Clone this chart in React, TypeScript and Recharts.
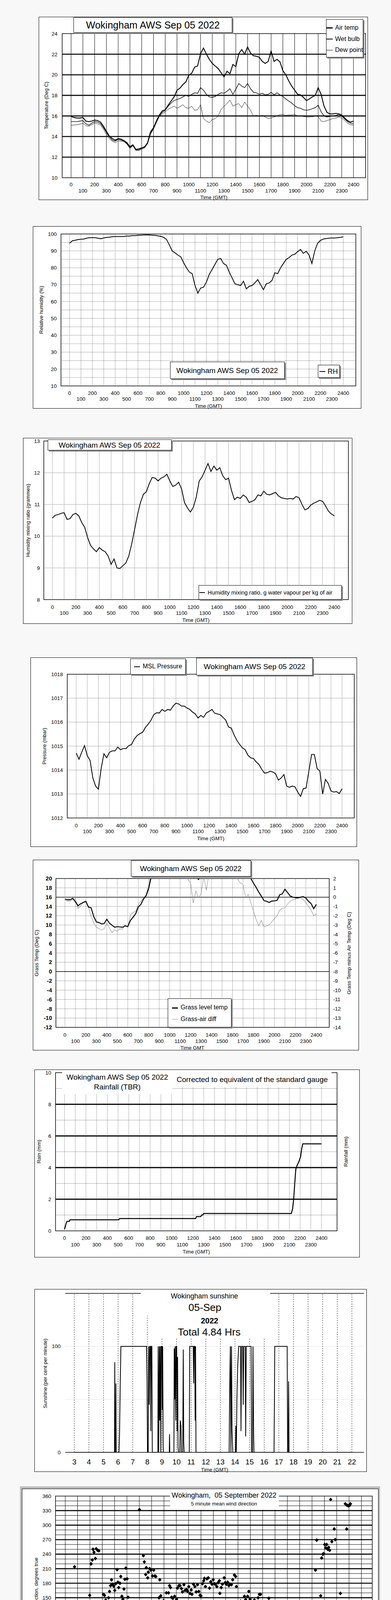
import React from 'react'
import {
  LineChart, Line, XAxis, YAxis, ReferenceLine, ReferenceArea,
  ScatterChart, Scatter, ComposedChart
} from 'recharts'

const FONT = '"Liberation Sans", Arial, Helvetica, sans-serif'

// time axis of the AWS plots is HHMM-like (0 .. 2400); traces read every 15 minutes
const STEP_TIMES = Array.from({ length: 97 }, (_, i) => i * 25)
const HUNDREDS = Array.from({ length: 25 }, (_, i) => i * 100)
// wind speed traces read every 6 minutes (tenths of an hour)
const SPEED_HOURS = Array.from({ length: 240 }, (_, i) => i / 10)

// one row per hour: :00 :15 :30 :45
const AIR_TEMP = [
  15.95, 15.85, 15.8, 15.8,
  15.85, 15.5, 15.45, 15.5,
  15.6, 15.55, 15.4, 15.0,
  14.5, 14.05, 13.8, 13.65,
  13.8, 13.75, 13.6, 13.4,
  13.0, 13.2, 12.75, 12.8,
  12.9, 13.0, 13.4, 14.45,
  14.85, 15.5, 16.1, 16.5,
  16.6, 17.05, 17.45, 17.85,
  18.5, 18.7, 19.05, 19.3,
  19.95, 20.15, 20.75, 20.85,
  22.05, 22.6, 22.0, 21.5,
  21.1, 20.85, 20.6, 20.2,
  19.8, 20.35, 20.1, 21.0,
  20.8, 22.05, 22.45, 22.0,
  22.7, 22.1, 21.85, 21.8,
  21.7, 21.3, 21.1, 21.3,
  22.3, 21.3, 21.5, 21.25,
  20.4, 20.0, 19.4, 18.9,
  18.5, 18.1, 18.05, 17.8,
  17.5, 17.65, 17.85, 18.0,
  18.75, 18.1, 16.95, 16.35,
  16.2, 16.2, 16.25, 16.2,
  16.1, 15.8, 15.55, 15.4,
  15.5,
]

const WET_BULB = [
  15.45, 15.45, 15.45, 15.5,
  15.55, 15.25, 15.1, 15.3,
  15.45, 15.4, 15.25, 14.85,
  14.4, 13.95, 13.65, 13.55,
  13.75, 13.65, 13.55, 13.3,
  12.9, 13.15, 12.7, 12.7,
  12.85, 12.95, 13.35, 14.3,
  14.8, 15.45, 16.0, 16.35,
  16.55, 16.95, 17.25, 17.5,
  17.6, 17.7, 17.85, 18.0,
  17.9, 18.1, 18.25, 18.2,
  18.75, 18.5, 18.1, 17.85,
  17.8, 17.9, 18.1, 18.25,
  18.2, 18.4, 18.65, 18.1,
  18.6, 19.15, 18.9, 18.75,
  19.15, 18.65, 18.3, 18.25,
  18.1, 18.2, 18.05, 18.1,
  18.3, 18.05, 18.25, 18.05,
  17.9, 17.65, 17.45, 17.25,
  17.0, 16.8, 16.75, 16.6,
  16.55, 16.6, 16.7, 16.8,
  17.05, 16.4, 16.0, 15.9,
  15.95, 16.0, 16.05, 16.15,
  16.0, 15.7, 15.45, 15.3,
  15.25,
]

const DEW_POINT = [
  15.1, 15.12, 15.15, 15.2,
  15.3, 15.05, 15.0, 15.15,
  15.3, 15.25, 15.1, 14.7,
  14.2, 13.8, 13.55, 13.4,
  13.6, 13.55, 13.5, 13.25,
  12.85, 13.1, 12.65, 12.65,
  12.75, 12.9, 13.3, 14.25,
  14.7, 15.35, 15.95, 16.2,
  16.4, 16.65, 16.8, 16.95,
  16.75, 16.9, 17.1, 16.8,
  16.75, 16.95, 16.55, 16.6,
  17.1, 15.75, 15.5, 15.35,
  15.65, 15.75, 16.0, 16.65,
  16.95, 17.2, 17.55, 16.95,
  17.1, 17.2, 16.8, 17.35,
  16.95, 16.55, 16.0, 16.05,
  15.95, 16.05, 15.9, 15.75,
  15.8, 15.9, 16.0, 16.15,
  16.15, 16.05, 16.1, 16.1,
  16.15, 16.0, 16.0, 15.95,
  15.9, 15.9, 15.92, 16.0,
  15.95, 15.5, 15.45, 15.55,
  15.65, 15.75, 15.8, 15.9,
  15.8, 15.55, 15.3, 15.15,
  15.1,
]

const REL_HUMIDITY = [
  94.5, 96.0, 96.3, 96.7,
  96.9, 97.0, 97.5, 97.8,
  97.8, 97.8, 97.5, 97.2,
  97.7, 98.0, 98.1, 98.4,
  98.5, 98.5, 98.5, 98.5,
  98.8, 98.8, 99.0, 99.0,
  99.2, 99.3, 99.4, 99.5,
  99.4, 99.3, 99.2, 98.9,
  98.6, 98.0, 96.8, 93.5,
  90.0, 88.8, 87.5, 86.5,
  83.0, 80.0, 77.5, 76.5,
  69.5, 65.0, 68.0, 68.5,
  71.5, 76.0, 79.0, 82.0,
  85.0, 85.5, 82.5, 81.5,
  77.5, 74.0, 70.5, 70.0,
  69.5, 72.0, 67.5, 69.0,
  69.5, 71.0, 73.0, 70.0,
  67.0, 70.5, 71.0, 72.5,
  77.0, 76.5, 80.0, 82.5,
  85.0, 86.0, 87.5, 88.0,
  89.5, 90.8, 88.5, 89.8,
  87.5, 82.5, 90.0, 94.5,
  96.2, 97.0, 97.3, 97.5,
  97.6, 97.6, 97.8, 98.0,
  98.3,
]

const MIXING_RATIO = [
  10.57, 10.66, 10.68, 10.72,
  10.74, 10.53, 10.55, 10.68,
  10.72, 10.64, 10.43, 10.28,
  9.96, 9.71, 9.6, 9.51,
  9.64, 9.56, 9.51, 9.37,
  9.11, 9.28, 9.0, 8.98,
  9.07, 9.15, 9.37, 9.75,
  10.21, 10.68, 11.06, 11.32,
  11.4, 11.66, 11.85, 11.83,
  11.74, 11.83, 11.87, 11.95,
  11.74, 11.57, 11.61, 11.7,
  11.49, 11.06, 10.89, 10.76,
  10.91, 11.23, 11.74, 11.87,
  12.08, 12.29, 12.04, 12.21,
  12.08, 12.16, 11.91, 11.78,
  11.83, 11.44, 11.15, 11.23,
  11.19, 11.3, 11.23, 11.06,
  11.1, 11.15, 11.3, 11.27,
  11.42, 11.32, 11.3, 11.34,
  11.38, 11.27, 11.21, 11.19,
  11.17, 11.19, 11.17, 11.25,
  11.21, 11.0, 10.83, 10.87,
  10.98, 11.04, 11.08, 11.13,
  11.1, 10.96, 10.79, 10.7,
  10.64,
]

const MSL_PRESSURE = [
  1014.71, 1014.45, 1014.75, 1015.02,
  1014.6, 1014.4, 1013.67, 1013.33,
  1013.2, 1014.06, 1014.68, 1014.51,
  1014.74, 1014.8, 1014.8, 1014.96,
  1014.85, 1014.9, 1014.9, 1015.02,
  1015.07, 1015.3, 1015.44, 1015.52,
  1015.58, 1015.78, 1015.92, 1016.08,
  1016.31, 1016.39, 1016.38, 1016.53,
  1016.45, 1016.53, 1016.5, 1016.67,
  1016.79, 1016.76, 1016.67, 1016.67,
  1016.59, 1016.53, 1016.42, 1016.34,
  1016.17, 1016.28, 1016.2, 1016.39,
  1016.45, 1016.53, 1016.37, 1016.34,
  1016.31, 1016.2, 1016.08, 1015.8,
  1015.75, 1015.47, 1015.24, 1015.07,
  1014.93, 1014.85, 1014.62, 1014.51,
  1014.48, 1014.34, 1014.23, 1014.03,
  1013.87, 1013.89, 1013.95, 1013.92,
  1013.84, 1013.58, 1013.67, 1013.81,
  1013.33, 1013.28, 1013.33, 1013.3,
  1013.08, 1012.9, 1013.22, 1013.25,
  1013.95, 1014.65, 1014.65, 1014.06,
  1013.95, 1013.0, 1013.61, 1013.44,
  1013.13, 1013.08, 1013.1, 1013.02,
  1013.22,
]

// grass temp runs off the top of its axis (20) through the middle of the day
const GRASS_TEMP = [
  15.58, 15.44, 15.44, 15.73,
  15.0, 14.14, 14.57, 14.86,
  15.06, 13.85, 13.7, 11.83,
  10.67, 10.53, 10.24, 10.33,
  11.25, 10.38, 9.95, 9.52,
  9.66, 9.6, 9.52, 9.8,
  9.66, 10.96, 11.68, 12.4,
  13.85, 14.43, 15.58, 16.3,
  17.89, 20.5, 22.0, 23.0,
  24.0, 24.5, 25.0, 25.5,
  26.0, 26.0, 26.5, 26.0,
  26.5, 25.5, 24.0, 23.0,
  21.5, 20.4, 20.5, 19.8,
  20.6, 21.0, 21.5, 23.0,
  24.0, 25.0, 25.5, 25.0,
  26.0, 25.0, 24.0, 23.5,
  23.0, 22.5, 22.0, 22.5,
  22.0, 21.5, 20.8, 20.0,
  19.0, 18.1, 17.1, 16.2,
  15.25, 15.1, 14.85, 15.15,
  15.2, 15.3, 16.5, 16.7,
  17.7, 17.0, 16.25, 16.0,
  15.9, 15.85, 16.0, 16.1,
  15.8, 15.1, 14.6, 13.5,
  14.43,
]

const GRASS_AIR_DIFF = [
  -0.35, -0.4, -0.43, -0.3,
  -0.14, -1.22, -0.93, -0.6,
  -0.35, -1.08, -2.09, -2.81,
  -3.24, -3.4, -3.53, -3.4,
  -2.81, -3.31, -3.82, -3.53,
  -3.68, -3.39, -3.45, -2.95,
  -3.24, -1.94, -1.65, -1.51,
  -0.79, -0.43, -0.07, 0.22,
  1.38, 2.5, 3.5, 4.0,
  4.5, 5.0, 5.0, 5.5,
  5.5, 5.5, 5.5, 5.0,
  4.5, 3.5, 2.5, 1.9,
  1.52, -0.64, 0.66, -0.07,
  0.37, 2.2, 0.73, 2.5,
  3.0, 3.5, 3.5, 3.5,
  3.5, 3.0, 2.5, 1.96,
  2.3, 2.3, 1.9, 1.5,
  1.38, -0.07, 0.3, -0.6,
  -1.5, -2.4, -3.1, -2.5,
  -3.2, -3.1, -3.0, -2.66,
  -2.3, -2.0, -1.4, -1.2,
  -1.15, -0.75, -0.45, -0.28,
  -0.21, -0.1, -0.07, -0.28,
  -0.55, -1.0, -1.4, -2.0,
  -1.8,
]

// [time HHMM, accumulated rain mm]
const RAIN_TOTAL: [number, number][] = [
  [0, 0.1], [10, 0.35], [22, 0.6], [45, 0.6], [50, 0.7], [505, 0.7], [515, 0.78],
  [1225, 0.78], [1232, 0.9], [1272, 0.9], [1280, 1.0], [1290, 1.0], [1300, 1.1],
  [2118, 1.1], [2130, 1.4], [2140, 2.0], [2150, 3.0], [2160, 3.9], [2170, 4.1],
  [2190, 4.4], [2205, 4.7], [2215, 5.2], [2225, 5.5], [2400, 5.5],
]

// [hour, per cent sunshine]
const SUNSHINE: [number, number][] = [
  [3, 0], [5.75, 0], [5.77, 85], [5.79, 0], [5.83, 0], [5.85, 65], [5.87, 0], [6.06, 0],
  [6.1, 20], [6.14, 60], [6.19, 100], [7.95, 100], [7.98, 70], [8.01, 0], [8.06, 0],
  [8.09, 100], [8.13, 45], [8.16, 100], [8.21, 100], [8.24, 20], [8.27, 100], [8.31, 100],
  [8.34, 0], [8.72, 0], [8.74, 100], [8.78, 0], [8.82, 100], [8.85, 30], [8.88, 100],
  [8.92, 0], [8.95, 100], [9.0, 100], [9.02, 40], [9.05, 100], [9.08, 10], [9.1, 0],
  [9.5, 0], [9.52, 17], [9.54, 0], [9.82, 0], [9.84, 98], [9.87, 50], [9.9, 100],
  [9.94, 30], [9.97, 100], [10.01, 100], [10.04, 20], [10.07, 90], [10.1, 5], [10.13, 0],
  [10.22, 0], [10.25, 30], [10.3, 25], [10.33, 0], [10.42, 0], [10.46, 97], [10.49, 10],
  [10.52, 0], [10.87, 0], [10.9, 100], [11.14, 100], [11.17, 65], [11.2, 100], [11.25, 100],
  [11.27, 30], [11.3, 100], [11.33, 0], [13.6, 0], [13.63, 55], [13.68, 100], [13.72, 0],
  [13.76, 100], [13.8, 20], [13.85, 0], [14.03, 0], [14.06, 25], [14.09, 0], [14.13, 50],
  [14.18, 80], [14.25, 100], [14.38, 100], [14.41, 20], [14.45, 100], [14.53, 100],
  [14.56, 45], [14.6, 100], [14.7, 100], [14.73, 15], [14.77, 100], [15.1, 100], [15.13, 0],
  [15.2, 0], [15.23, 100], [15.27, 20], [15.3, 0], [16.67, 0], [16.7, 50], [16.72, 100],
  [17.57, 100], [17.6, 0], [17.64, 0], [17.67, 67], [17.7, 0], [22, 0],
]

// [hour, degrees true] 5 minute mean wind direction
const WIND_DIR: [number, number][] = [
  [0, 73], [0.08, 85], [0.19, 78], [0.24, 96], [0.35, 111], [0.45, 95], [0.49, 82], [0.6, 80], [0.66, 136], [0.75, 214], [0.85, 29], [0.93, 76],
  [1.01, 67], [1.07, 99], [1.17, 85], [1.28, 73], [1.37, 62], [1.48, 62], [1.6, 82], [1.67, 84], [1.77, 72], [1.82, 82], [1.93, 103], [1.98, 155],
  [2.09, 220], [2.19, 228], [2.25, 250], [2.33, 244], [2.44, 231], [2.51, 251], [2.62, 248], [2.72, 247], [2.75, 92], [2.85, 76], [2.93, 121],
  [3.02, 142], [3.09, 157], [3.18, 155], [3.28, 145], [3.35, 137], [3.41, 141], [3.51, 150], [3.59, 163], [3.67, 175], [3.75, 187], [3.83, 178], [3.93, 174],
  [4.01, 165], [4.09, 179], [4.2, 208], [4.27, 182], [4.33, 171], [4.43, 180], [4.5, 194], [4.59, 153], [4.67, 147], [4.76, 168], [4.83, 188], [4.91, 211],
  [5.01, 189], [5.09, 151], [5.2, 135], [5.25, 50], [5.36, 21], [5.44, 63], [5.51, 71], [5.57, 75], [5.62, 95], [5.73, 90], [5.81, 110], [5.89, 131],
  [6.01, 332], [6.07, 14], [6.15, 21], [6.22, 27], [6.33, 237], [6.41, 224], [6.52, 198], [6.57, 212], [6.68, 191], [6.73, 203], [6.84, 210], [6.94, 207],
  [7.07, 195], [7.17, 207], [7.26, 195], [7.34, 194], [7.44, 128], [7.6, 150], [7.66, 187], [7.74, 154], [7.88, 132], [7.97, 144],
  [8.05, 134], [8.13, 142], [8.19, 160], [8.27, 136], [8.37, 160], [8.45, 175], [8.53, 171], [8.61, 151], [8.71, 149], [8.79, 142], [8.86, 153], [8.96, 139],
  [9.02, 147], [9.1, 170], [9.2, 175], [9.3, 175], [9.42, 169], [9.5, 162], [9.62, 177], [9.7, 165], [9.83, 167], [9.91, 163],
  [10.01, 173], [10.11, 159], [10.21, 166], [10.27, 157], [10.39, 178], [10.51, 173], [10.61, 162], [10.72, 177], [10.82, 163], [10.92, 155],
  [11.0, 154], [11.12, 179], [11.22, 185], [11.28, 190], [11.36, 173], [11.48, 189], [11.59, 191], [11.69, 170], [11.79, 183], [11.89, 178], [11.99, 187],
  [12.09, 179], [12.17, 178], [12.29, 173], [12.39, 181], [12.49, 185], [12.53, 159], [12.64, 171], [12.74, 178], [12.88, 191], [12.96, 181],
  [13.06, 178], [13.16, 182], [13.26, 175], [13.34, 178], [13.47, 177], [13.57, 187], [13.71, 197], [13.81, 194], [13.87, 173],
  [14.01, 142], [14.11, 130], [14.21, 143], [14.31, 126], [14.42, 124], [14.52, 153], [14.62, 146], [14.72, 139], [14.78, 153], [14.88, 163], [14.98, 147],
  [15.08, 90], [15.16, 106], [15.22, 139], [15.33, 145], [15.39, 126], [15.53, 137], [15.63, 150], [15.73, 157], [15.83, 157], [15.87, 124], [15.93, 141],
  [16.03, 123], [16.13, 116], [16.24, 92], [16.34, 114], [16.44, 120], [16.5, 149], [16.6, 123], [16.7, 124], [16.78, 131], [16.88, 103], [16.94, 108],
  [17.04, 119], [17.14, 90], [17.2, 86], [17.31, 107], [17.39, 92], [17.45, 86], [17.51, 127], [17.61, 134], [17.69, 141], [17.79, 126], [17.87, 96], [17.95, 124],
  [18.05, 111], [18.12, 116], [18.2, 102], [18.28, 118], [18.36, 123], [18.46, 108], [18.56, 102], [18.62, 111], [18.7, 95], [18.76, 83], [18.86, 74], [18.96, 76],
  [19.05, 92], [19.13, 84], [19.21, 75], [19.29, 66], [19.37, 67], [19.47, 75], [19.53, 83], [19.61, 68], [19.69, 19], [19.77, 27], [19.85, 35], [19.94, 41],
  [20.02, 46], [20.1, 51], [20.18, 111], [20.28, 207], [20.38, 269], [20.44, 21], [20.54, 74], [20.62, 126], [20.7, 154], [20.78, 232], [20.87, 240], [20.95, 241],
  [21.03, 260], [21.11, 253], [21.19, 260], [21.27, 250], [21.35, 254], [21.43, 248], [21.51, 353], [21.61, 266], [21.72, 59], [21.8, 292], [21.88, 270], [21.94, 76],
  [22.04, 94], [22.12, 59], [22.2, 116], [22.3, 159], [22.4, 106], [22.46, 111], [22.55, 87], [22.62, 75], [22.7, 344], [22.81, 292], [22.84, 341], [22.95, 340],
  [23.05, 341], [23.11, 344], [23.21, 27], [23.29, 41], [23.35, 11], [23.45, 31], [23.53, 56], [23.61, 66], [23.72, 79], [23.78, 106], [23.86, 119], [23.96, 98],
]

// 10 min mean speed (kt), ten values per hour
const MEAN_SPEED = [
  2.8, 3.5, 3.85, 3.7, 4.0, 3.3, 2.5, 2.0, 0.7, 0.2,
  0.7, 1.3, 1.55, 2.0, 2.4, 2.9, 3.3, 3.5, 3.75, 4.4,
  3.1, 3.2, 3.5, 3.7, 3.75, 3.5, 2.9, 1.55, 0.7, 0.3,
  0.9, 0.7, 1.1, 1.2, 2.0, 2.9, 3.1, 2.65, 2.4, 2.9,
  3.1, 2.65, 1.75, 1.3, 2.4, 2.65, 2.2, 2.4, 3.1, 2.65,
  2.0, 2.1, 2.65, 1.55, 1.1, 1.75, 2.0, 1.55, 2.0, 1.75,
  1.1, 0.7, 1.55, 1.3, 0.2, 0.9, 1.55, 1.75, 1.75, 1.9,
  2.0, 1.95, 1.9, 2.0, 2.1, 2.15, 2.2, 2.3, 2.4, 2.3,
  2.2, 2.3, 2.4, 1.6, 1.55, 2.5, 3.1, 3.4, 3.75, 4.0,
  4.2, 4.4, 4.6, 4.9, 5.1, 4.8, 4.7, 5.0, 5.3, 4.9,
  4.4, 4.9, 5.3, 5.8, 6.4, 5.6, 5.1, 5.8, 6.4, 7.2,
  8.0, 8.2, 8.4, 8.6, 8.8, 8.5, 8.2, 8.3, 8.4, 8.0,
  6.4, 6.0, 5.75, 5.5, 5.3, 5.1, 4.9, 4.6, 4.4, 4.6,
  4.9, 4.4, 4.0, 3.9, 3.75, 3.9, 4.0, 3.7, 3.5, 3.9,
  4.2, 4.3, 4.4, 4.3, 4.2, 4.4, 4.55, 4.8, 5.1, 5.3,
  5.5, 5.2, 4.9, 4.6, 4.4, 4.7, 5.1, 5.3, 5.5, 5.0,
  4.4, 3.9, 3.5, 3.5, 3.5, 3.7, 4.0, 4.1, 4.2, 4.4,
  4.65, 4.3, 4.0, 3.5, 3.1, 3.2, 3.3, 3.4, 3.5, 3.5,
  3.5, 3.2, 2.9, 2.85, 2.8, 2.85, 2.9, 3.0, 3.1, 2.9,
  2.65, 2.5, 2.4, 2.0, 1.55, 1.2, 0.9, 1.2, 1.55, 1.55,
  1.55, 1.1, 0.7, 0.4, 0.2, 0.4, 0.7, 1.0, 1.3, 4.2,
  7.5, 8.6, 9.3, 10.2, 8.0, 4.2, 2.0, 0.9, 0.7, 1.55,
  0.9, 2.2, 3.3, 3.1, 3.5, 3.3, 3.3, 2.9, 1.1, 1.75,
  1.55, 1.4, 1.3, 1.1, 0.9, 1.3, 1.75, 1.6, 1.55, 1.65,
]

const MAX_GUST = [
  6.5, 5.5, 6.5, 5.0, 6.0, 5.2, 4.8, 4.5, 3.5, 1.8,
  2.5, 3.0, 3.8, 4.0, 4.5, 5.0, 5.5, 5.2, 8.0, 6.0,
  5.0, 5.5, 4.5, 6.0, 5.0, 5.8, 4.0, 2.5, 1.5, 0.6,
  1.5, 1.2, 1.8, 1.6, 2.5, 3.5, 4.5, 3.2, 3.0, 4.8,
  3.5, 4.0, 2.8, 2.2, 3.5, 4.5, 3.0, 3.8, 4.5, 3.2,
  3.0, 4.8, 3.5, 2.5, 2.0, 3.2, 3.5, 2.5, 3.8, 3.0,
  2.0, 4.2, 2.5, 2.8, 1.0, 2.2, 3.0, 3.2, 2.8, 3.2,
  3.5, 3.0, 3.8, 3.2, 4.0, 3.5, 4.2, 3.0, 3.8, 4.5,
  3.5, 4.0, 3.2, 2.5, 3.0, 6.0, 5.5, 7.0, 6.5, 5.5,
  7.0, 6.0, 8.5, 6.5, 7.5, 8.0, 6.5, 9.0, 7.5, 8.0,
  6.0, 8.5, 7.5, 9.5, 12.5, 8.0, 7.0, 10.0, 9.0, 11.0,
  14.0, 18.0, 12.5, 13.0, 11.5, 13.5, 12.0, 10.5, 12.5, 11.0,
  9.5, 11.0, 8.5, 8.0, 9.5, 7.0, 8.0, 6.5, 7.5, 6.0,
  7.5, 6.0, 5.5, 7.0, 5.0, 6.5, 5.5, 6.0, 5.0, 7.5,
  6.0, 8.5, 6.0, 7.0, 5.5, 8.0, 6.5, 7.0, 9.0, 7.0,
  8.5, 7.0, 6.0, 7.5, 6.5, 8.0, 10.5, 7.5, 8.5, 6.5,
  6.5, 5.0, 6.0, 5.5, 5.0, 6.5, 5.5, 6.0, 9.5, 7.0,
  8.5, 7.0, 5.5, 5.0, 4.5, 6.0, 5.0, 5.5, 6.0, 5.0,
  5.5, 4.5, 6.5, 4.0, 4.5, 5.0, 4.0, 4.5, 4.0, 5.0,
  4.5, 3.5, 4.0, 2.5, 2.0, 1.5, 2.0, 2.5, 1.5, 2.0,
  2.5, 1.5, 1.5, 1.0, 0.5, 0.3, 1.0, 1.5, 3.0, 6.5,
  9.0, 12.0, 23.5, 14.0, 9.0, 5.0, 3.0, 2.0, 1.5, 2.5,
  1.5, 4.5, 6.0, 5.0, 5.5, 4.5, 4.0, 2.5, 3.5, 2.5,
  3.0, 2.5, 2.0, 2.5, 1.5, 2.0, 3.0, 2.5, 2.0, 2.2,
]

// [hour, speed x10] speeds below 4 kt plotted at x10 scale
const LOW_SPEED_X10: [number, number][] = [
  [0, 29], [0.05, 30], [0.07, 31.6], [0.09, 33.4], [0.12, 35.1], [0.15, 36.5], [0.17, 37.1], [0.2, 37.8], [0.26, 39.3], [0.3, 40.1], [0.33, 37.4], [0.36, 39.1], [0.4, 35.1], [0.43, 32.9], [0.48, 31.6], [0.53, 32.1], [0.58, 30.7], [0.63, 29.6], [0.65, 27.6], [0.68, 26.5], [0.7, 24], [0.74, 19.2], [0.77, 14.4], [0.79, 10.8], [0.81, 8.2], [0.84, 7.3], [0.87, 6.4], [0.9, 4.9], [0.92, 2.0],
  [0.99, 8.6], [1.04, 11.1], [1.09, 13.5], [1.14, 15.0], [1.2, 16.1], [1.25, 18.6], [1.28, 20.6], [1.32, 22.3], [1.35, 23.7], [1.4, 25.9], [1.43, 27.0], [1.47, 28.3], [1.5, 29.8], [1.53, 31.6], [1.57, 32.9], [1.6, 33.8], [1.65, 32.1], [1.71, 33.4], [1.76, 34.7], [1.79, 37.6], [1.81, 40.0], [1.86, 38.2], [1.96, 35.6],
  [2.01, 31.8], [2.06, 27.2], [2.11, 26.3], [2.15, 24.5], [2.18, 22.1], [2.22, 27.6], [2.27, 31.2], [2.32, 32.5], [2.37, 31.6], [2.42, 34.3], [2.47, 35.8], [2.52, 33.2], [2.57, 32.1], [2.63, 29.4], [2.65, 27.0], [2.65, 24.3], [2.65, 22.0], [2.63, 18.8], [2.63, 16.6],
  [2.71, 13.7], [2.73, 11.1], [2.75, 9.1], [2.78, 6.9], [2.81, 5.7], [2.83, 4.4], [2.85, 2.9], [2.88, 1.1], [2.93, 6.9], [2.96, 8.0], [3.0, 10.4], [3.03, 12.2], [3.06, 13.0], [3.1, 11.3], [3.14, 9.1], [3.17, 7.7], [3.21, 6.9], [3.24, 9.5], [3.27, 11.3], [3.3, 12.2], [3.34, 12.6], [3.37, 11.7], [3.4, 11.1], [3.42, 12.6], [3.44, 14.6], [3.46, 15.7], [3.47, 18.1], [3.49, 20.6],
  [3.51, 21.9], [3.54, 23.7], [3.57, 25.4], [3.62, 28.1], [3.65, 29.8], [3.68, 28.9], [3.72, 27.6], [3.75, 26.3], [3.78, 24.5], [3.8, 23.0], [3.85, 22.3], [3.89, 25.4], [3.93, 28.5], [3.98, 30.5], [4.02, 32.3], [4.06, 30.7], [4.08, 29.2], [4.11, 27.2], [4.13, 25.0],
  [4.16, 21.4], [4.16, 18.8], [4.18, 16.8], [4.21, 14.4], [4.24, 12.6], [4.26, 11.3], [4.28, 10.2], [4.31, 20.6], [4.34, 22.8], [4.36, 25.0], [4.39, 23.7], [4.43, 22.1], [4.46, 20.1], [4.5, 18.6], [4.55, 17.5], [4.59, 16.1], [4.62, 15.7], [4.65, 17.9], [4.68, 24.8], [4.72, 26.3], [4.77, 23.7], [4.82, 21.0], [4.87, 20.6], [4.92, 22.8], [4.97, 24.1],
  [5.03, 23.0], [5.08, 21.9], [5.13, 24.5], [5.18, 32.7], [5.21, 31.6], [5.23, 29.8], [5.2, 27.2], [5.23, 25.0], [5.28, 19.2], [5.31, 14.8], [5.34, 12.6], [5.36, 8.8], [5.38, 7.3],
  [5.43, 20.1], [5.46, 14.8], [5.49, 18.3], [5.52, 16.6], [5.54, 21.7], [5.59, 22.5], [5.64, 21.0], [5.69, 22.1], [5.74, 22.8], [5.79, 21.7], [5.84, 23.2], [5.89, 24.1], [5.94, 24.8], [5.97, 22.8],
  [6.01, 22.1], [6.05, 20.6], [6.07, 16.8], [6.1, 15.7], [6.05, 14.1], [6.08, 11.3], [6.08, 8.4], [6.1, 6.9], [6.1, 4.4], [6.12, 3.3],
  [6.35, 2.0], [6.35, 3.8], [6.38, 5.5], [6.4, 8.0], [6.44, 9.3], [6.48, 10.2], [6.51, 11.1], [6.56, 12.6], [6.61, 13.9], [6.66, 15.3], [6.69, 16.6], [6.72, 17.9], [6.74, 19.0], [6.79, 19.9], [6.83, 20.1], [6.89, 18.8], [6.92, 17.2], [6.95, 18.3],
  [7.0, 17.7], [7.04, 16.8], [7.1, 15.9], [7.15, 16.1], [7.2, 17.0], [7.22, 19.2], [7.27, 20.6], [7.3, 21.9], [7.34, 23.2], [7.37, 21.4], [7.43, 20.6], [7.48, 22.3], [7.53, 20.1], [7.58, 19.0], [7.61, 21.0], [7.65, 22.8], [7.68, 24.1], [7.73, 25.4], [7.76, 26.5], [7.8, 27.6], [7.83, 28.1], [7.89, 25.0], [7.94, 24.3], [7.97, 25.0],
  [8.02, 23.4], [8.06, 22.3], [8.09, 20.6], [8.11, 19.5], [8.14, 21.4], [8.19, 24.5], [8.22, 23.2], [8.24, 24.1], [8.27, 22.3], [8.29, 20.1], [8.35, 18.3], [8.37, 17.0], [8.35, 16.1], [8.37, 15.0], [8.4, 23.0], [8.47, 19.9],
  [8.5, 25.4], [8.53, 26.7], [8.55, 28.3], [8.58, 29.8], [8.6, 33.2], [8.62, 36.9], [8.65, 38.0], [8.68, 40.0], [8.73, 38.2], [8.91, 39.8], [8.96, 39.3], [9.01, 39.1], [9.06, 38.5], [9.14, 37.6],
  [9.98, 38.5], [9.98, 36.7], [9.98, 35.7],
  [13.2, 39.7], [13.26, 38.5], [13.29, 39.1], [13.67, 38.7], [13.72, 37.8], [13.77, 36.9], [13.82, 35.6], [13.84, 33.2], [13.87, 34.5], [13.92, 36.0], [13.97, 39.3], [14.0, 38.2], [14.02, 36.7], [14.07, 35.8], [14.1, 34.3], [14.13, 33.6], [14.18, 32.5], [14.18, 37.8], [14.25, 39.3], [14.28, 38.2], [14.41, 38.5], [14.69, 38.0], [14.72, 37.8],
  [16.17, 39.8], [16.22, 38.5], [16.28, 37.6], [16.3, 36.5], [16.33, 35.4], [16.38, 34.3], [16.43, 32.5], [16.46, 30.9], [16.48, 30.5], [16.53, 36.5], [16.58, 37.6], [16.63, 35.6], [16.68, 33.8], [16.74, 35.8], [16.79, 38.0], [16.82, 38.5], [16.84, 39.3],
  [17.09, 39.6], [17.14, 39.1], [17.2, 36.7], [17.23, 35.4], [17.2, 33.8], [17.23, 32.1], [17.3, 39.8], [17.35, 37.6], [17.4, 39.3], [17.45, 35.4], [17.48, 34.3], [17.5, 32.1], [17.52, 30.5], [17.55, 29.2], [17.61, 27.6], [17.66, 27.0], [17.71, 26.5], [17.74, 30.9], [17.79, 33.2], [17.81, 34.7], [17.86, 39.3], [17.88, 38.5], [17.91, 37.4], [17.94, 36.3], [17.96, 35.1], [17.99, 34.5],
  [18.04, 34.0], [18.07, 33.4], [18.12, 32.5], [18.17, 32.1], [18.2, 30.5], [18.22, 29.8], [18.25, 27.9], [18.27, 27.0], [18.32, 26.1], [18.38, 25.4], [18.43, 24.5], [18.48, 25.2], [18.53, 25.9], [18.58, 26.5], [18.63, 27.2], [18.68, 28.3], [18.73, 29.2], [18.79, 30.5], [18.84, 31.6], [18.89, 32.7], [18.94, 32.1], [18.99, 31.4],
  [19.04, 30.5], [19.09, 29.8], [19.14, 29.2], [19.2, 28.5], [19.23, 26.5], [19.25, 24.3], [19.31, 22.1], [19.33, 20.1], [19.36, 19.2], [19.39, 18.1], [19.42, 17.0], [19.45, 19.2], [19.5, 16.1], [19.53, 15.0], [19.56, 13.5], [19.6, 12.6], [19.63, 10.0], [19.65, 8.8], [19.69, 8.0], [19.71, 6.9], [19.74, 6.2], [19.79, 18.3], [19.84, 19.2], [19.89, 19.5], [19.94, 17.5], [19.97, 16.1],
  [20.01, 15.3], [20.04, 14.1], [20.07, 13.5], [20.11, 13.0], [20.14, 11.7], [20.17, 10.8], [20.22, 10.0], [20.23, 8.2], [20.25, 7.3], [20.27, 6.2], [20.3, 4.6], [20.33, 3.5], [20.36, 2.9], [20.4, 2.4], [20.43, 3.3], [20.46, 4.2], [20.5, 4.6], [20.52, 5.7], [20.55, 6.9], [20.58, 7.5], [20.62, 8.4], [20.66, 8.8], [20.7, 9.3], [20.75, 9.7], [20.8, 10.8], [20.85, 13.5], [20.87, 17.0], [20.9, 21.4], [20.9, 26.3], [20.9, 32.3],
  [21.55, 30.9], [21.58, 25.0], [21.62, 22.8], [21.65, 21.7], [21.68, 19.5], [21.7, 17.9], [21.72, 15.9], [21.75, 14.4], [21.77, 13.0], [21.8, 12.2], [21.82, 11.3], [21.85, 9.3], [21.88, 8.6], [21.9, 7.7], [21.92, 6.9], [21.95, 6.0], [21.98, 5.1],
  [22.0, 17.2], [22.02, 28.3], [22.05, 32.3], [22.07, 32.1], [22.1, 31.4], [22.15, 30.7], [22.17, 28.1], [22.19, 25.2], [22.22, 24.5], [22.24, 25.4], [22.26, 23.4], [22.29, 21.7], [22.31, 21.2], [22.36, 25.9], [22.42, 29.2], [22.45, 30.3], [22.47, 31.6], [22.5, 33.4], [22.52, 34.7], [22.5, 36.7], [22.52, 37.8], [22.54, 39.1], [22.57, 40.0], [22.6, 36.0], [22.62, 34.7], [22.67, 33.4], [22.72, 29.4], [22.7, 23.9], [22.77, 20.1],
  [22.8, 12.2], [22.8, 10.4], [22.77, 7.1], [22.77, 5.7], [22.84, 18.3], [22.88, 17.5], [22.93, 16.8], [22.98, 16.1], [23.03, 15.7], [23.05, 17.2], [23.08, 18.1], [23.11, 17.5], [23.13, 16.1], [23.18, 16.6], [23.23, 15.7], [23.28, 14.6], [23.31, 12.2], [23.34, 11.1], [23.39, 10.4], [23.42, 9.5], [23.44, 8.6], [23.46, 10.0], [23.5, 11.3], [23.53, 12.6], [23.56, 13.7], [23.59, 15.5], [23.63, 16.8], [23.65, 18.1], [23.68, 19.5], [23.72, 19.7], [23.75, 18.6], [23.8, 17.9], [23.85, 17.5], [23.9, 16.8], [23.95, 17.0],
]

// ---------- helpers ----------

const seq = (from: number, to: number, step: number) => {
  const out: number[] = []
  for (let v = from; v <= to + 1e-9; v += step) out.push(Math.round(v * 100) / 100)
  return out
}

type LineOpts = { stroke?: string; width?: number; dash?: string; axis?: string | number }

function hLines(values: number[], o: LineOpts = {}) {
  return values.map(v => (
    <ReferenceLine key={`h${v}`} y={v} yAxisId={o.axis ?? 0} stroke={o.stroke ?? '#000'}
      strokeWidth={o.width ?? 1} strokeDasharray={o.dash} />
  ))
}

function vLines(values: number[], o: LineOpts = {}) {
  return values.map(v => (
    <ReferenceLine key={`v${v}`} x={v} yAxisId={o.axis ?? 0} stroke={o.stroke ?? '#000'}
      strokeWidth={o.width ?? 1} strokeDasharray={o.dash} />
  ))
}

const AX = { tickLine: false, axisLine: false, tickSize: 0, allowDataOverflow: true, interval: 0 as const }
const Y_TICK = { fontSize: 13.5, fill: '#000', fontFamily: FONT }
const DOTS = '1 2'

// even hundreds on the first row, odd hundreds on the second
const hundredsTick = (d1: number, d2: number) => (p: any) => {
  const v = p.payload.value
  const odd = Math.round(v / 100) % 2 === 1
  return (
    <text x={p.x} y={p.y + (odd ? d2 : d1)} textAnchor="middle" dominantBaseline="central"
      fontSize={13.5} fontFamily={FONT} fill="#000">{v}</text>
  )
}

const simpleTick = (dy: number, size: number) => (p: any) => (
  <text x={p.x} y={p.y + dy} textAnchor="middle" dominantBaseline="central"
    fontSize={size} fontFamily={FONT} fill="#000">{p.payload.value}</text>
)

const clockTick = (p: any) => {
  const v = p.payload.value
  return (
    <text x={p.x} y={p.y + (v % 2 ? 35 : 20)} textAnchor="middle" dominantBaseline="central"
      fontSize={13.5} fontFamily={FONT} fill="#000">{`${String(v).padStart(2, '0')}:00`}</text>
  )
}

const blackDiamond = (p: any) => (
  <path d={`M${p.cx},${p.cy - 5}L${p.cx + 4.5},${p.cy}L${p.cx},${p.cy + 5}L${p.cx - 4.5},${p.cy}Z`} fill="#000" />
)
const greyDiamond = (p: any) => (
  <path d={`M${p.cx},${p.cy - 4.5}L${p.cx + 4.5},${p.cy}L${p.cx},${p.cy + 4.5}L${p.cx - 4.5},${p.cy}Z`}
    fill="#c8c8c8" stroke="#333" strokeWidth={0.8} />
)

type Rect = { x: number; y: number; w: number; h: number }

const Frame = ({ x, y, w, h }: Rect) => (
  <div style={{ position: 'absolute', left: x, top: y, width: w, height: h, background: '#fff', border: '1px solid #000', boxSizing: 'border-box' }} />
)
const Box = ({ x, y, w, h }: Rect) => (
  <div style={{ position: 'absolute', left: x, top: y, width: w, height: h, background: '#fff', border: '1px solid #000', boxSizing: 'border-box', boxShadow: '3px 3px 0 #8a8a8a' }} />
)
const White = ({ x, y, w, h }: Rect) => (
  <div style={{ position: 'absolute', left: x, top: y, width: w, height: h, background: '#fff' }} />
)
const At = ({ x, y, children }: { x: number; y: number; children: React.ReactNode }) => (
  <div style={{ position: 'absolute', left: x, top: y }}>{children}</div>
)
const Swatch = ({ x, y, w, t, color = '#000' }: { x: number; y: number; w: number; t: number; color?: string }) => (
  <div style={{ position: 'absolute', left: x, top: y - t / 2, width: w, height: t, background: color }} />
)

type TxtProps = {
  x: number; y: number; size?: number; children: React.ReactNode; weight?: string
  rotate?: number; anchor?: 'start' | 'middle'
}
const Txt = ({ x, y, size = 13, children, weight, rotate, anchor = 'middle' }: TxtProps) => (
  <div style={{
    position: 'absolute', left: x, top: y, fontSize: size, fontWeight: weight, lineHeight: 1,
    whiteSpace: 'nowrap', fontFamily: FONT, color: '#000',
    transform: `translate(${anchor === 'middle' ? '-50%' : '0'}, -50%)${rotate ? ` rotate(${rotate}deg)` : ''}`,
  }}>{children}</div>
)

// ---------- panels ----------

function TemperaturePanel() {
  const data = STEP_TIMES.map((t, i) => ({ t, air: AIR_TEMP[i], wet: WET_BULB[i], dew: DEW_POINT[i] }))
  return (
    <>
      <Frame x={99} y={43} w={842} h={469} />
      <At x={99} y={43}>
        <LineChart width={842} height={469} data={data} margin={{ top: 43, right: 6, bottom: 0, left: 0 }}>
          <XAxis {...AX} dataKey="t" type="number" domain={[-76, 2503]} ticks={HUNDREDS} height={57} tickMargin={0} tick={hundredsTick(17, 33)} />
          <YAxis {...AX} type="number" domain={[10, 24]} ticks={seq(10, 24, 2)} width={60} tickMargin={12} tick={Y_TICK} />
          {vLines(HUNDREDS)}
          {hLines(seq(12, 22, 2), { width: 2.6 })}
          <Line dataKey="dew" stroke="#000" strokeWidth={0.9} dot={false} isAnimationActive={false} />
          <Line dataKey="wet" stroke="#000" strokeWidth={1.4} dot={false} isAnimationActive={false} />
          <Line dataKey="air" stroke="#000" strokeWidth={2.2} dot={false} isAnimationActive={false} />
          <ReferenceArea x1={-76} x2={2503} y1={10} y2={24} fill="none" stroke="#000" strokeWidth={1.5} />
        </LineChart>
      </At>
      <Box x={188} y={44} w={406} h={40} />
      <Txt x={391} y={64} size={25}>Wokingham AWS Sep 05 2022</Txt>
      <Box x={834} y={49} w={95} h={98} />
      <Swatch x={835} y={71} w={16} t={3} />
      <Txt x={857} y={71} size={16} anchor="start">Air temp</Txt>
      <Swatch x={835} y={100} w={16} t={1.6} />
      <Txt x={857} y={100} size={16} anchor="start">Wet bulb</Txt>
      <Swatch x={835} y={128} w={16} t={1} />
      <Txt x={857} y={128} size={16} anchor="start">Dew point</Txt>
      <Txt x={118} y={270} size={13} rotate={-90}>Temperature (Deg C)</Txt>
      <Txt x={547} y={505} size={13}>Time (GMT)</Txt>
    </>
  )
}

function HumidityPanel() {
  const data = STEP_TIMES.map((t, i) => ({ t, rh: REL_HUMIDITY[i] }))
  return (
    <>
      <Frame x={84} y={579} w={840} h={467} />
      <At x={84} y={579}>
        <LineChart width={840} height={467} data={data} margin={{ top: 20, right: 14, bottom: 0, left: 0 }}>
          <XAxis {...AX} dataKey="t" type="number" domain={[-75, 2510]} ticks={HUNDREDS} height={58} tickMargin={0} tick={hundredsTick(18, 33)} />
          <YAxis {...AX} type="number" domain={[10, 100]} ticks={seq(10, 100, 10)} width={72} tickMargin={11} tick={Y_TICK} />
          {vLines(HUNDREDS, { dash: DOTS })}
          {hLines(seq(15, 95, 5), { dash: DOTS })}
          <Line dataKey="rh" stroke="#000" strokeWidth={2} dot={false} isAnimationActive={false} />
          <ReferenceArea x1={-75} x2={2510} y1={10} y2={100} fill="none" stroke="#000" strokeWidth={1.5} />
        </LineChart>
      </At>
      <Box x={435} y={926} w={293} h={44} />
      <Txt x={581} y={948} size={19}>Wokingham AWS Sep 05 2022</Txt>
      <Box x={813} y={934} w={56} h={33} />
      <Swatch x={817} y={951} w={15} t={2.5} />
      <Txt x={838} y={951} size={18} anchor="start">RH</Txt>
      <Txt x={105} y={793} size={13} rotate={-90}>Relative humidity (%)</Txt>
      <Txt x={533} y={1039} size={13}>Time (GMT)</Txt>
    </>
  )
}

function MixingRatioPanel() {
  const data = STEP_TIMES.map((t, i) => ({ t, mr: MIXING_RATIO[i] }))
  return (
    <>
      <Frame x={59} y={1121} w={842} h={476} />
      <At x={59} y={1121}>
        <LineChart width={842} height={476} data={data} margin={{ top: 8, right: 10, bottom: 0, left: 0 }}>
          <XAxis {...AX} dataKey="t" type="number" domain={[-73, 2520]} ticks={HUNDREDS} height={62} tickMargin={0} tick={hundredsTick(19, 34)} />
          <YAxis {...AX} type="number" domain={[8, 13]} ticks={seq(8, 13, 1)} width={53} tickMargin={10} tick={Y_TICK} />
          {vLines(HUNDREDS, { dash: DOTS })}
          {hLines([9, 10, 11, 12], { dash: DOTS })}
          <Line dataKey="mr" stroke="#000" strokeWidth={2} dot={false} isAnimationActive={false} />
          <ReferenceArea x1={-73} x2={2520} y1={8} y2={13} fill="none" stroke="#000" strokeWidth={1.5} />
        </LineChart>
      </At>
      <Box x={122} y={1125} w={317} h={28} />
      <Txt x={280} y={1139} size={19}>Wokingham AWS Sep 05 2022</Txt>
      <Box x={508} y={1498} w={366} h={37} />
      <Swatch x={510} y={1517} w={14} t={2.5} />
      <Txt x={531} y={1517} size={14.5} anchor="start">Humidity mixing ratio, g water vapour per kg of air</Txt>
      <Txt x={71} y={1332} size={13} rotate={-90}>Humidity mixing ratio (grammes)</Txt>
      <Txt x={501} y={1587} size={13}>Time (GMT)</Txt>
    </>
  )
}

function PressurePanel() {
  const data = STEP_TIMES.map((t, i) => ({ t, p: MSL_PRESSURE[i] }))
  return (
    <>
      <Frame x={78} y={1683} w={835} h={485} />
      <At x={78} y={1683}>
        <LineChart width={835} height={485} data={data} margin={{ top: 43, right: 7, bottom: 0, left: 0 }}>
          <XAxis {...AX} dataKey="t" type="number" domain={[-81, 2510]} ticks={HUNDREDS} height={74} tickMargin={0} tick={hundredsTick(19, 34)} />
          <YAxis {...AX} type="number" domain={[1012, 1018]} ticks={seq(1012, 1018, 1)} width={94} tickMargin={11} tick={Y_TICK} />
          {vLines(HUNDREDS, { dash: DOTS })}
          {hLines(seq(1013, 1017, 1), { dash: DOTS })}
          <Line dataKey="p" stroke="#000" strokeWidth={2} dot={false} isAnimationActive={false} />
          <ReferenceArea x1={-81} x2={2510} y1={1012} y2={1018} fill="none" stroke="#000" strokeWidth={1.5} />
        </LineChart>
      </At>
      <Box x={333} y={1686} w={142} h={41} />
      <Swatch x={343} y={1707} w={15} t={2.5} />
      <Txt x={365} y={1706} size={16} anchor="start">MSL Pressure</Txt>
      <Box x={502} y={1684} w={298} h={45} />
      <Txt x={651} y={1706} size={19}>Wokingham AWS Sep 05 2022</Txt>
      <Txt x={113} y={1910} size={13} rotate={-90}>Pressure (mbar)</Txt>
      <Txt x={539} y={2146} size={13}>Time (GMT)</Txt>
    </>
  )
}

function GrassPanel() {
  const data = STEP_TIMES.map((t, i) => ({ t, grass: GRASS_TEMP[i], diff: GRASS_AIR_DIFF[i] }))
  const dotted = seq(-10, 18, 2).filter(v => v !== 0 && v !== 16)
  return (
    <>
      <Frame x={84} y={2201} w={834} h={488} />
      <At x={84} y={2201}>
        <LineChart width={834} height={488} data={data} margin={{ top: 48, right: 0, bottom: 0, left: 0 }}>
          <XAxis {...AX} dataKey="t" type="number" domain={[-86, 2523]} ticks={HUNDREDS} height={59} tickMargin={0} tick={hundredsTick(19, 35)} />
          <YAxis {...AX} yAxisId="left" type="number" domain={[-12, 20]} ticks={seq(-12, 20, 2)} width={59} tickMargin={10}
            tick={{ ...Y_TICK, fontSize: 14.5, fontWeight: 'bold' }} />
          <YAxis {...AX} yAxisId="right" orientation="right" type="number" domain={[-14, 2]} ticks={seq(-14, 2, 1)} width={76} tickMargin={10} tick={Y_TICK} />
          {vLines(HUNDREDS, { dash: DOTS, axis: 'left' })}
          {hLines(dotted, { dash: DOTS, axis: 'left' })}
          {hLines([0, 16], { width: 1.5, axis: 'left' })}
          <Line yAxisId="right" dataKey="diff" stroke="#8c8c8c" strokeWidth={1.1} dot={false} isAnimationActive={false} />
          <Line yAxisId="left" dataKey="grass" stroke="#000" strokeWidth={2.4} dot={false} isAnimationActive={false} />
          <ReferenceArea yAxisId="left" x1={-86} x2={2523} y1={-12} y2={20} fill="none" stroke="#000" strokeWidth={1.5} />
        </LineChart>
      </At>
      <Box x={335} y={2202} w={307} h={42} />
      <Txt x={488} y={2223} size={19}>Wokingham AWS Sep 05 2022</Txt>
      <Box x={429} y={2556} w={163} h={74} />
      <Swatch x={440} y={2580} w={15} t={3} />
      <Txt x={462} y={2579} size={16} anchor="start">Grass level temp</Txt>
      <Swatch x={440} y={2609} w={15} t={1} color="#8c8c8c" />
      <Txt x={462} y={2609} size={16} anchor="start">Grass-air diff</Txt>
      <Txt x={93} y={2440} size={13} rotate={-90}>Grass Temp (Deg C)</Txt>
      <Txt x={892} y={2440} size={13} rotate={-90}>Grass Temp minus Air Temp (Deg C)</Txt>
      <Txt x={492} y={2682} size={13}>Time GMT</Txt>
    </>
  )
}

function RainPanel() {
  const data = RAIN_TOTAL.map(([t, mm]) => ({ t, mm }))
  return (
    <>
      <Frame x={88} y={2738} w={832} h={481} />
      <At x={88} y={2738}>
        <LineChart width={832} height={481} data={data} margin={{ top: 8, right: 58, bottom: 0, left: 0 }}>
          <XAxis {...AX} dataKey="t" type="number" domain={[-84, 2545]} ticks={HUNDREDS} height={68} tickMargin={0} tick={hundredsTick(18, 35)} />
          <YAxis {...AX} type="number" domain={[0, 10]} ticks={seq(0, 10, 2)} width={54} tickMargin={11} tick={Y_TICK} />
          {vLines(HUNDREDS, { dash: DOTS })}
          {hLines([1, 3, 5, 7, 9], { dash: DOTS })}
          {hLines([2, 4, 6, 8], { width: 3 })}
          <Line dataKey="mm" stroke="#000" strokeWidth={2.5} dot={false} isAnimationActive={false} />
          <ReferenceArea x1={-84} x2={2545} y1={0} y2={10} fill="none" stroke="#000" strokeWidth={1.5} />
        </LineChart>
      </At>
      <White x={159} y={2744} w={283} h={56} />
      <White x={442} y={2744} w={406} h={39} />
      <Txt x={300} y={2757} size={19}>Wokingham AWS Sep 05 2022</Txt>
      <Txt x={300} y={2782} size={19}>Rainfall (TBR)</Txt>
      <Txt x={645} y={2763} size={19}>Corrected to equivalent of the standard gauge</Txt>
      <Txt x={99} y={2948} size={13} rotate={-90}>Rain (mm)</Txt>
      <Txt x={884} y={2948} size={13} rotate={-90}>Rainfall (mm)</Txt>
      <Txt x={502} y={3204} size={13}>Time (GMT)</Txt>
    </>
  )
}

function SunshinePanel() {
  const data = SUNSHINE.map(([h, pct]) => ({ h, pct }))
  return (
    <>
      <Frame x={88} y={3300} w={850} h={468} />
      <At x={88} y={3300}>
        <LineChart width={850} height={468} data={data} margin={{ top: 11, right: 7, bottom: 0, left: 0 }}>
          <XAxis {...AX} dataKey="h" type="number" domain={[2.385, 22.83]} ticks={seq(3, 22, 1)} height={50} tickMargin={0} tick={simpleTick(24, 19)} />
          <YAxis {...AX} type="number" domain={[0, 150]} ticks={[0, 100]} width={79} tickMargin={12} tick={Y_TICK} />
          {vLines(seq(3, 22, 1), { dash: '3 3', width: 0.9 })}
          {hLines([50, 100], { dash: DOTS, stroke: '#b4b4b4' })}
          {hLines([0, 150], { width: 1.5 })}
          <Line dataKey="pct" stroke="#000" strokeWidth={2} dot={false} isAnimationActive={false} />
        </LineChart>
      </At>
      <White x={360} y={3309} w={331} h={59} />
      <White x={392} y={3368} w={299} h={57} />
      <Txt x={523} y={3318} size={18}>Wokingham sunshine</Txt>
      <Txt x={524} y={3347} size={26}>05-Sep</Txt>
      <Txt x={536} y={3381} size={20} weight="bold">2022</Txt>
      <Txt x={535} y={3410} size={26}>Total 4.84 Hrs</Txt>
      <Txt x={115} y={3516} size={13} rotate={-90}>Sunshine (per cent per minute)</Txt>
      <Txt x={549} y={3762} size={13}>Time (GMT)</Txt>
    </>
  )
}

function WindDirectionPanel() {
  const data = WIND_DIR.map(([h, d]) => ({ h, d }))
  const thin = seq(10, 350, 10).filter(v => v % 30 !== 0)
  return (
    <>
      <Frame x={56} y={3811} w={912} h={516} />
      <At x={56} y={3811}>
        <ScatterChart width={912} height={516} margin={{ top: 19, right: 16, bottom: 0, left: 0 }}>
          <XAxis {...AX} dataKey="h" type="number" domain={[-0.79, 24.88]} ticks={seq(0, 24, 1)} height={51} tickMargin={0} tick={simpleTick(18, 14)} />
          <YAxis {...AX} dataKey="d" type="number" domain={[0, 360]} ticks={seq(0, 360, 30)} width={86} tickMargin={11} tick={Y_TICK} />
          {vLines(seq(0, 24, 1))}
          {hLines(thin)}
          {hLines(seq(30, 330, 30), { width: 2.6 })}
          <ReferenceArea x1={-0.79} x2={24.88} y1={0} y2={360} fill="none" stroke="#000" strokeWidth={1.5} />
          <Scatter data={data} dataKey="d" shape={blackDiamond} isAnimationActive={false} />
        </ScatterChart>
      </At>
      <White x={435} y={3813} w={278} h={52} />
      <Txt x={573} y={3828} size={18}>Wokingham,&nbsp; 05 September 2022</Txt>
      <Txt x={573} y={3849} size={13}>5 minute mean wind direction</Txt>
      <Txt x={92} y={4053} size={13} rotate={-90}>Direction, degrees true</Txt>
      <Txt x={547} y={4312} size={13}>Time (GMT)</Txt>
    </>
  )
}

function WindSpeedPanel() {
  const data = SPEED_HOURS.map((h, i) => ({ h, mean: MEAN_SPEED[i], gust: MAX_GUST[i] }))
  const diamonds = LOW_SPEED_X10.map(([h, v]) => ({ h, v }))
  return (
    <>
      <Frame x={56} y={4335} w={912} h={495} />
      <At x={56} y={4335}>
        <ComposedChart width={912} height={495} data={data} margin={{ top: 43, right: 5, bottom: 0, left: 0 }}>
          <XAxis {...AX} dataKey="h" type="number" domain={[-0.737, 25.25]} ticks={seq(0, 23, 1)} height={75} tickMargin={0} tick={clockTick} />
          <YAxis {...AX} type="number" domain={[0, 50]} ticks={seq(0, 50, 10)} width={61} tickMargin={12} tick={Y_TICK} />
          {vLines(seq(0, 24, 1), { dash: DOTS })}
          {hLines(seq(5, 45, 5), { dash: DOTS })}
          <ReferenceArea x1={-0.737} x2={25.25} y1={0} y2={50} fill="none" stroke="#000" strokeWidth={1.5} />
          <Line dataKey="gust" stroke="#454545" strokeWidth={1} dot={false} isAnimationActive={false} />
          <Line dataKey="mean" stroke="#000" strokeWidth={2.2} dot={false} isAnimationActive={false} />
          <Scatter data={diamonds} dataKey="v" shape={greyDiamond} isAnimationActive={false} />
        </ComposedChart>
      </At>
      <White x={131} y={4376} w={334} h={4} />
      <Txt x={296} y={4359} size={19.5}>Wokingham,&nbsp; 05 September 2022</Txt>
      <Txt x={591} y={4347} size={13.5}>Wind speed, 10 min mean / max gust</Txt>
      <Txt x={591} y={4365} size={13.5}>Speeds below 4 kt shown at x10 scale</Txt>
      <Box x={744} y={4341} w={219} h={25} />
      <Swatch x={777} y={4354} w={11} t={2} />
      <Txt x={796} y={4353} size={11} anchor="start">Speed x 1</Txt>
      <svg style={{ position: 'absolute', left: 862, top: 4348 }} width={11} height={11}>
        <path d="M5.5,0.5L10.5,5.5L5.5,10.5L0.5,5.5Z" fill="#c8c8c8" stroke="#333" strokeWidth={0.8} />
      </svg>
      <Txt x={880} y={4353} size={11} anchor="start">Speed / 10</Txt>
      <Txt x={71} y={4566} size={13} rotate={-90}>Speed (knots)</Txt>
      <Txt x={540} y={4807} size={13}>Time (GMT)</Txt>
    </>
  )
}

export default function App() {
  return (
    <div style={{ position: 'relative', width: 1000, height: 5000, background: '#f8f8f8', overflow: 'hidden', fontFamily: FONT }}>
      <style>{'body{margin:0}'}</style>
      <TemperaturePanel />
      <HumidityPanel />
      <MixingRatioPanel />
      <PressurePanel />
      <GrassPanel />
      <RainPanel />
      <SunshinePanel />
      <div style={{ position: 'absolute', left: 51, top: 3805, width: 921, height: 1031, background: '#bdbdbd' }} />
      <WindDirectionPanel />
      <WindSpeedPanel />
    </div>
  )
}
